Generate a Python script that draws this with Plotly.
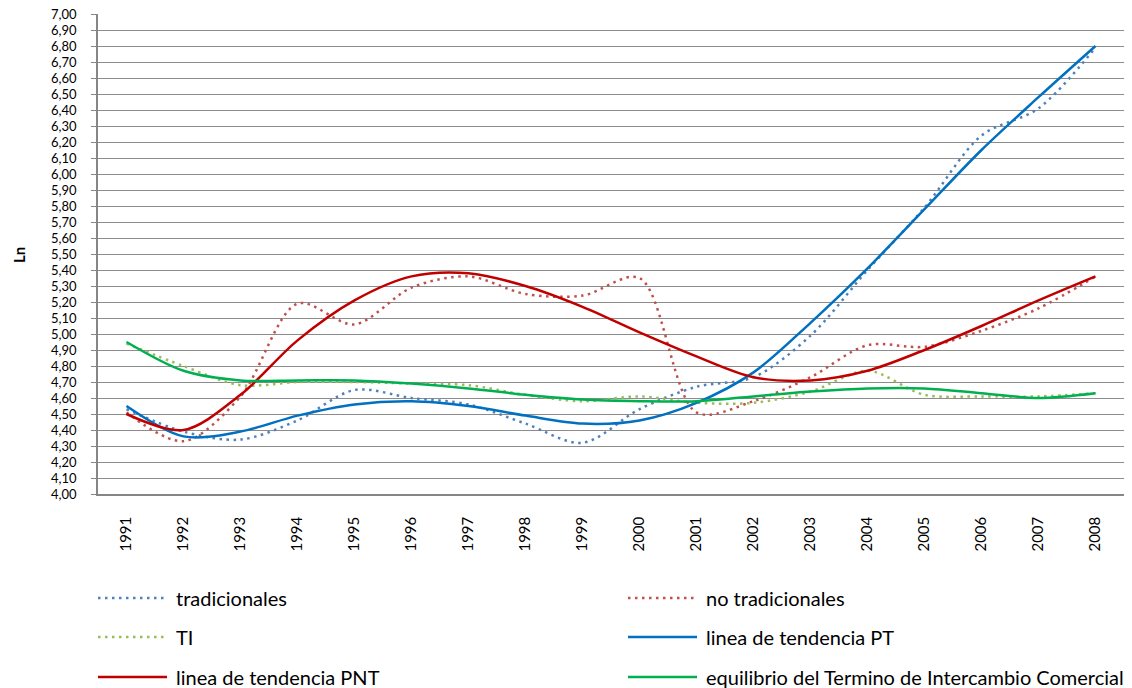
import plotly.graph_objects as go

years = [str(y) for y in range(1991, 2009)]

tradicionales = [4.53, 4.39, 4.34, 4.46, 4.65, 4.60, 4.56, 4.44, 4.32, 4.53,
                 4.67, 4.73, 4.99, 5.40, 5.79, 6.24, 6.41, 6.79]
no_tradicionales = [4.51, 4.33, 4.61, 5.19, 5.06, 5.29, 5.36, 5.25, 5.24, 5.35,
                    4.51, 4.58, 4.73, 4.93, 4.92, 5.02, 5.16, 5.36]
ti = [4.94, 4.80, 4.68, 4.70, 4.70, 4.69, 4.68, 4.62, 4.58, 4.61,
      4.57, 4.57, 4.64, 4.77, 4.62, 4.61, 4.61, 4.63]
tend_pt = [4.55, 4.36, 4.39, 4.49, 4.56, 4.58, 4.55, 4.49, 4.44, 4.46,
           4.57, 4.76, 5.07, 5.41, 5.78, 6.15, 6.48, 6.80]
tend_pnt = [4.50, 4.40, 4.62, 4.96, 5.21, 5.36, 5.38, 5.30, 5.17, 5.01,
            4.86, 4.73, 4.71, 4.77, 4.90, 5.05, 5.21, 5.36]
equilibrio = [4.95, 4.77, 4.71, 4.71, 4.71, 4.69, 4.66, 4.62, 4.59, 4.58,
              4.58, 4.61, 4.64, 4.66, 4.66, 4.63, 4.60, 4.63]

FONT = "Lato"
DOT = "2.5px,4.5px"

# name, values, colour, dash, legend column, legend row
series = [
    ("tradicionales", tradicionales, "#4F81BD", DOT, 0, 0),
    ("no tradicionales", no_tradicionales, "#C0504D", DOT, 1, 0),
    ("TI", ti, "#9BBB59", DOT, 0, 1),
    ("linea de tendencia PT", tend_pt, "#0070C0", "solid", 1, 1),
    ("linea de tendencia PNT", tend_pnt, "#C00000", "solid", 0, 2),
    ("equilibrio del Termino de Intercambio Comercial", equilibrio, "#00B050", "solid", 1, 2),
]

W, H = 1132, 688
L, T = 98, 14
PLOT_RIGHT, PLOT_BOTTOM = 1124, 494
R, B = W - PLOT_RIGHT, H - PLOT_BOTTOM
PW, PH = W - L - R, H - T - B

def px_x(px):  # page pixel -> paper x
    return (px - L) / PW

def px_y(py):  # page pixel -> paper y
    return (PLOT_BOTTOM - py) / PH

fig = go.Figure()
shapes, annots = [], []
col_line = [(98, 167), (628, 697)]
col_text = [174, 704]
row_py = [598, 637, 677]
for name, vals, color, dash, col, row in series:
    fig.add_trace(go.Scatter(
        x=years, y=vals, name=name, mode="lines",
        line=dict(color=color, width=2.5, dash=dash, shape="spline", smoothing=0.9),
        showlegend=False,
    ))
    yy = px_y(row_py[row])
    shapes.append(dict(type="line", xref="paper", yref="paper",
                       x0=px_x(col_line[col][0]), x1=px_x(col_line[col][1]), y0=yy, y1=yy,
                       line=dict(color=color, width=2.5, dash=dash)))
    annots.append(dict(xref="paper", yref="paper", x=px_x(col_text[col]), y=yy,
                       xanchor="left", yanchor="middle", showarrow=False, text=name,
                       font=dict(family=FONT, size=20, color="#000000")))

annots.append(dict(xref="paper", yref="paper", x=px_x(19), y=px_y(255),
                   xanchor="center", yanchor="middle", showarrow=False, textangle=-90,
                   text="<b>Ln</b>", font=dict(family=FONT, size=15, color="#000000")))

ytick_vals = [round(4.0 + 0.1 * i, 2) for i in range(31)]

fig.update_layout(
    width=W, height=H,
    margin=dict(l=L, r=R, t=T, b=B),
    paper_bgcolor="white", plot_bgcolor="white",
    separators=",.",
    font=dict(family=FONT, color="#000000"),
    showlegend=False,
    shapes=shapes, annotations=annots,
    xaxis=dict(
        type="category", range=[-0.5, 17.5], automargin=False,
        tickangle=-90, tickfont=dict(family=FONT, size=15, color="#000000"),
        showgrid=False, showline=True, linecolor="#868686", linewidth=1.5,
        ticks="", ticklabelstandoff=15, ticklabeloverflow="allow",
    ),
    yaxis=dict(
        range=[4.0, 7.0], tickvals=ytick_vals, tickformat=".2f", automargin=False,
        tickfont=dict(family=FONT, size=13, color="#000000"),
        showgrid=True, gridcolor="#8c8c8c", gridwidth=1.2,
        showline=True, linecolor="#868686", linewidth=1.5,
        ticks="outside", ticklen=5, tickcolor="#868686", ticklabelstandoff=12,
        ticklabeloverflow="allow",
        zeroline=False,
    ),
)

fig.write_html(
    "out.html",
    config={"displayModeBar": False},
    post_script="document.body.style.margin='0';document.body.style.overflow='hidden';",
)
